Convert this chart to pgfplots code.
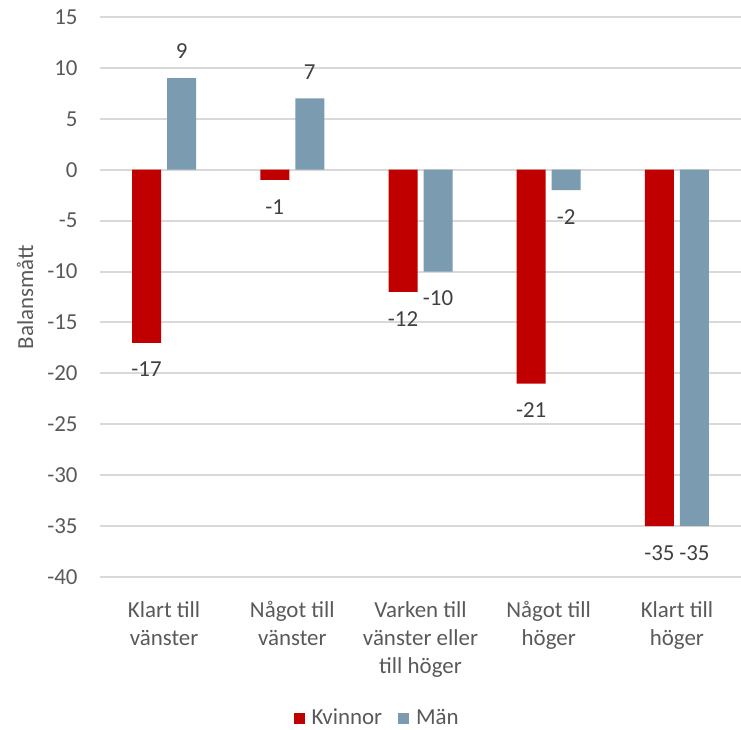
\documentclass[border=0pt]{standalone}
\usepackage{pgfplots}
\pgfplotsset{compat=1.18}
\usepackage{fontspec}
\setmainfont{Carlito}
\definecolor{kv}{HTML}{C00000}
\definecolor{man}{HTML}{7A9BB0}
\definecolor{txt}{HTML}{595959}
\definecolor{lbl}{HTML}{404040}
\definecolor{grd}{HTML}{D9D9D9}
\begin{document}
\begin{tikzpicture}
\begin{axis}[name=ax, scale only axis, width=320.5bp, height=280bp,
  xmin=-0.5, xmax=4.5, ymin=-40, ymax=15,
  ytick={-40,-35,...,15},
  xtick={0,1,2,3,4},
  xticklabels={Klart till\\vänster, Något till\\vänster, Varken till\\vänster eller\\till höger, Något till\\höger, Klart till\\höger},
  axis line style={draw=none}, major tick length=0pt,
  ymajorgrids, grid style={grd, line width=1bp},
  font=\fontsize{11.5}{14}\selectfont,
  /pgf/number format/assume math mode=true,
  y tick label style={anchor=east, inner sep=0pt, xshift=-11bp, text=txt, font=\fontsize{11.5}{14}\selectfont},
  x tick label style={anchor=north, align=center, inner sep=0pt, yshift=-12bp, text=txt, font=\fontsize{11.5}{14}\selectfont},
  ylabel={Balansmått},
  ylabel style={at={(axis description cs:-0.117,0.5)}, anchor=center, text=txt, font=\fontsize{11.5}{14}\selectfont},
  ybar, bar width=14.5bp,
  nodes near coords,
  nodes near coords style={font=\fontsize{11.5}{14}\selectfont, text=lbl, inner sep=9.5bp},
  legend style={at={(0.434,-0.252)}, anchor=center, draw=none, legend columns=2, font=\fontsize{11.5}{14}\selectfont, text=txt,
    /tikz/every odd column/.append style={column sep=1.5bp},
    /tikz/every even column/.append style={column sep=6bp}},
  legend image code/.code={\fill[#1] (0bp,-2.75bp) rectangle (5.5bp,2.75bp);},
  clip=false,
]
\addplot[fill=kv, draw=none, bar shift=-8.75bp] coordinates {(0,-17) (1,-1) (2,-12) (3,-21) (4,-35)};
\addlegendentry{Kvinnor}
\addplot[fill=man, draw=none, bar shift=8.75bp] coordinates {(0,9) (1,7) (2,-10) (3,-2) (4,-35)};
\addlegendentry{Män}
\end{axis}
\pgfresetboundingbox
\path ([shift={(-50bp,-76.5bp)}]ax.south west) rectangle ([shift={(0bp,8.5bp)}]ax.north east);
\end{tikzpicture}
\end{document}
